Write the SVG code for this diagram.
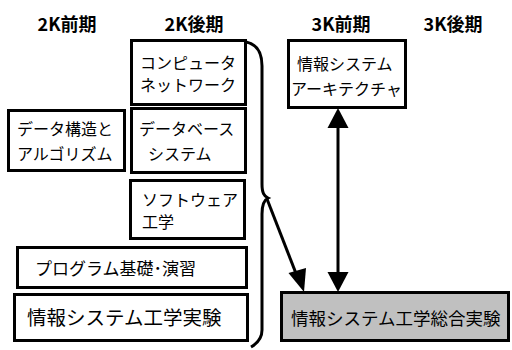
<svg xmlns="http://www.w3.org/2000/svg" width="512" height="350" viewBox="0 0 512 350">
<style>
.box{fill:#fff;stroke:#000;stroke-width:3}
.gray{fill:#c0c0c0;stroke:#000;stroke-width:3}
text{font-family:"Noto Sans CJK JP","Liberation Sans",sans-serif;fill:#000}
.hd{font-size:18px;font-weight:bold;text-anchor:middle}
.t{font-size:16px}
.ln{fill:none;stroke:#000;stroke-width:3}
</style>
<rect width="512" height="350" fill="#fff"/>
<g id="headers">
<text class="hd" x="67" y="31">2K前期</text>
<text class="hd" x="194" y="31">2K後期</text>
<text class="hd" x="341" y="31">3K前期</text>
<text class="hd" x="453" y="31">3K後期</text>
</g>
<g id="computer-network">
<rect class="box" x="131.5" y="40.5" width="114" height="64"/>
<text class="t" x="140" y="69">コンピュータ</text>
<text class="t" x="140" y="91">ネットワーク</text>
</g>
<g id="data-structures">
<rect class="box" x="8.5" y="110.5" width="116" height="60"/>
<text class="t" x="17" y="135">データ構造と</text>
<text class="t" x="17" y="160">アルゴリズム</text>
</g>
<g id="database">
<rect class="box" x="131.5" y="108.5" width="114" height="64"/>
<text class="t" x="139" y="135">データベース</text>
<text class="t" x="148" y="160">システム</text>
</g>
<g id="software">
<rect class="box" x="130.5" y="180.5" width="114" height="58"/>
<text class="t" x="142" y="206">ソフトウェア</text>
<text class="t" x="142" y="228">工学</text>
</g>
<g id="programming">
<rect class="box" x="17.5" y="247.5" width="229" height="40"/>
<text x="35" y="275" font-size="17">プログラム基礎･演習</text>
</g>
<g id="experiment">
<rect class="box" x="14.5" y="294.5" width="233" height="46"/>
<text x="27" y="325" font-size="19.5">情報システム工学実験</text>
</g>
<g id="architecture">
<rect class="box" x="288.5" y="40.5" width="117" height="67"/>
<text class="t" x="297" y="70">情報システム</text>
<text class="t" x="291" y="95">アーキテクチャ</text>
</g>
<g id="integrated-experiment">
<rect class="gray" x="281.5" y="292.5" width="227" height="48"/>
<text x="291" y="325" font-size="17.5">情報システム工学総合実験</text>
</g>
<g id="connectors">
<path class="ln" d="M246,42 C256,44 262,52 262,66 L262,184 C262,193 264,196 268,198 C264,200 262,204 262,214 L262,330 C262,338 258,343 251,347"/>
<line class="ln" x1="338" y1="125" x2="338" y2="274"/>
<polygon points="338,108 327.5,128 348.5,128"/>
<polygon points="338,292 327.5,272 348.5,272"/>
<line class="ln" x1="267" y1="199" x2="297" y2="276"/>
<polygon points="304,292 288.5,273 306,268"/>
</g>
</svg>
